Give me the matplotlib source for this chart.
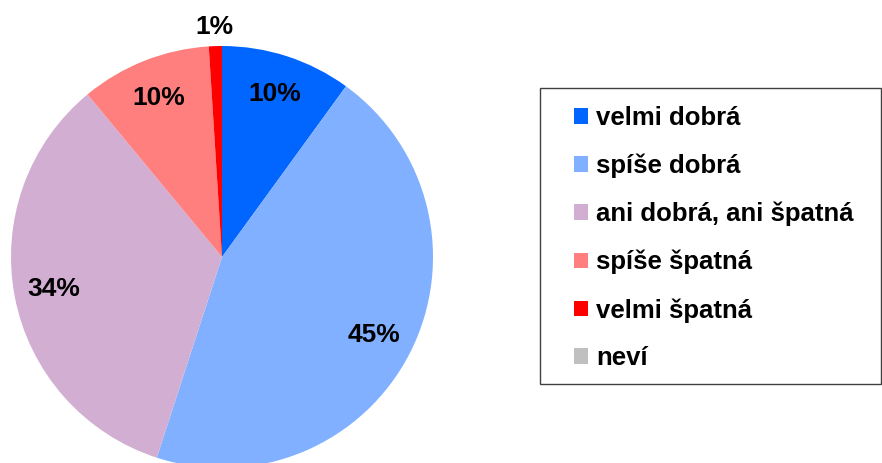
import numpy as np
import matplotlib.pyplot as plt
from matplotlib.patches import Rectangle

plt.rcParams['font.family'] = ['Liberation Sans', 'DejaVu Sans']

kategorie = ['velmi dobrá', 'spíše dobrá', 'ani dobrá, ani špatná',
             'spíše špatná', 'velmi špatná', 'neví']
hodnoty = [10, 45, 34, 10, 1, 0]
barvy = ['#0066FF', '#80B0FF', '#D2AFD2', '#FF7F7F', '#FF0000', '#C0C0C0']

fig = plt.figure(figsize=(8.82, 4.63), dpi=100)
ax = fig.add_axes([11 / 882, -5 / 463, 422 / 882, 422 / 463])

wedges, _ = ax.pie(hodnoty, colors=barvy, startangle=90, counterclock=False,
                   radius=1, wedgeprops=dict(linewidth=0))
ax.set_xlim(-1, 1)
ax.set_ylim(-1, 1)
ax.set_aspect('equal')

# popisky procent
for w, v in zip(wedges, hodnoty):
    if v == 0:
        continue
    uhel = np.deg2rad((w.theta1 + w.theta2) / 2)
    r = 0.81 if v >= 5 else 1.09
    ax.text(r * np.cos(uhel), r * np.sin(uhel), f'{v}%', ha='center', va='center',
            fontsize=19, fontweight='bold', clip_on=False)

# rámeček legendy
fig.patches.append(Rectangle((540 / 882, 1 - 384 / 463), 341 / 882, 296 / 463,
                             transform=fig.transFigure, fill=False,
                             edgecolor='#404040', linewidth=1))

leg = fig.legend(wedges, kategorie, loc='upper left',
                 bbox_to_anchor=(574 / 882, 1 - 106 / 463), frameon=False,
                 prop=dict(weight='bold', size=18.5), handlelength=0.55,
                 handleheight=0.55, handletextpad=0.3, labelspacing=0.92,
                 borderpad=0, borderaxespad=0)

fig.savefig('out.png', dpi=100)
